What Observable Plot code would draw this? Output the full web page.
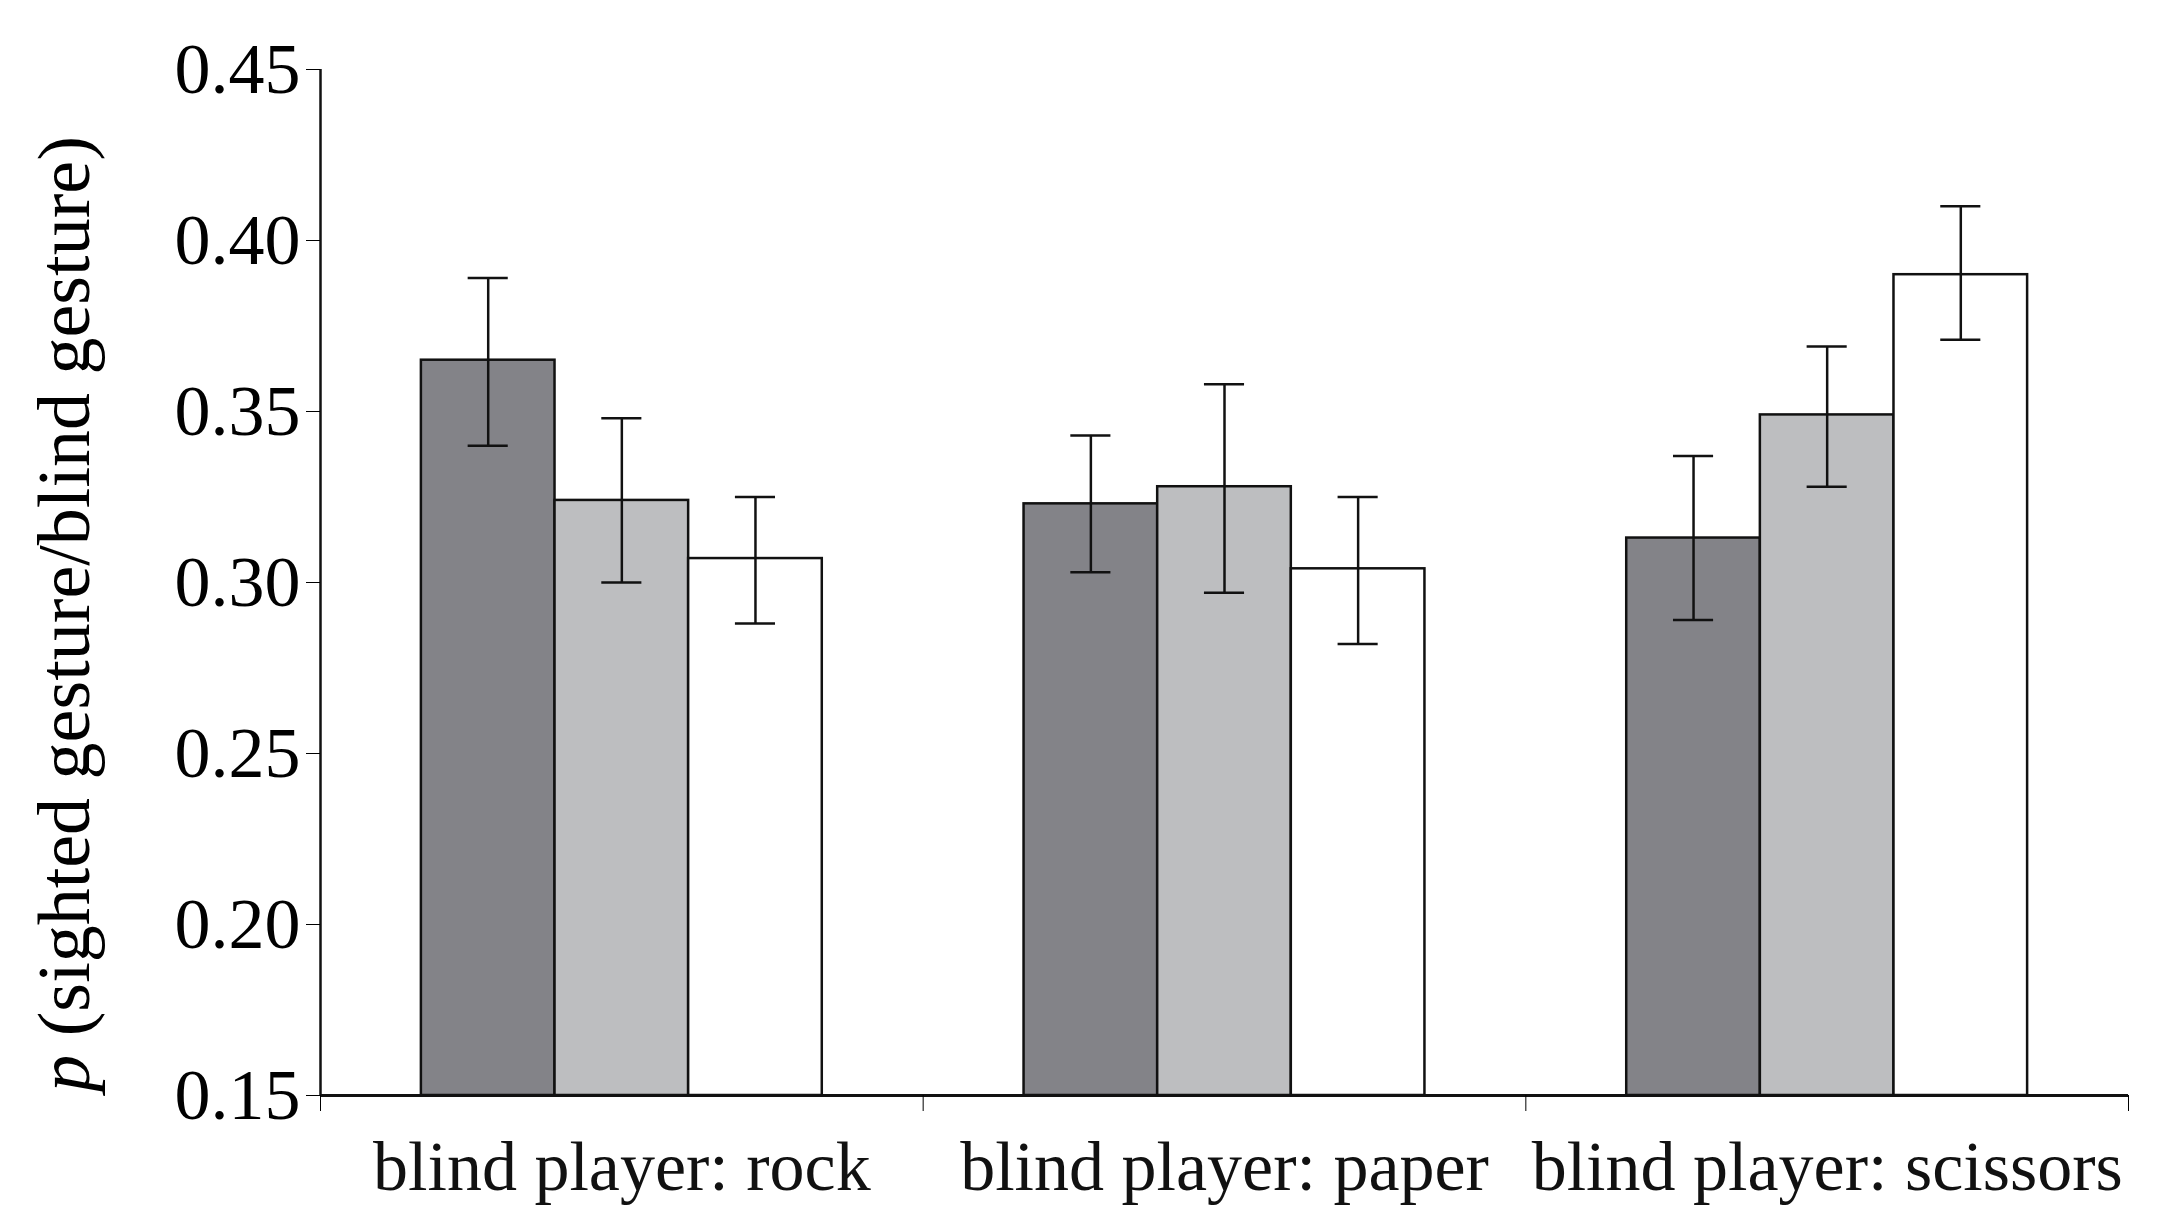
<!DOCTYPE html>
<html><head><meta charset="utf-8">
<script src="https://cdn.jsdelivr.net/npm/d3@7"></script>
<script src="https://cdn.jsdelivr.net/npm/@observablehq/plot@0.6"></script>
<style>body{margin:0;background:#fff}#wrap{position:relative;width:2168px;height:1220px}
#ylab{position:absolute;left:64px;top:614px;transform:translate(-50%,-50%) rotate(-90deg);font-family:"Liberation Serif";font-size:74px;white-space:nowrap;z-index:2}</style>
</head><body><div id="wrap"><div id="ylab"><i>p</i> (sighted gesture/blind gesture)</div></div>
<script>
const categories = ["blind player: rock","blind player: paper","blind player: scissors"];
const series = ["s1","s2","s3"];
const colors = ["#838388","#bdbec0","#ffffff"];
const values = [[0.365,0.324,0.307],[0.323,0.328,0.304],[0.313,0.349,0.390]];
const lows   = [[0.340,0.300,0.288],[0.303,0.297,0.282],[0.289,0.328,0.371]];
const highs  = [[0.389,0.348,0.325],[0.343,0.358,0.325],[0.337,0.369,0.410]];
const G = 4.51, pad = 0.755;
const data = [];
categories.forEach((c,i)=>series.forEach((s,j)=>data.push({c,s,i,j,v:values[i][j],lo:lows[i][j],hi:highs[i][j],x1:i*G+pad+j,x2:i*G+pad+j+1,xc:i*G+pad+j+0.5})));
const chart = Plot.plot({
  width:2168,height:1220,marginLeft:320,marginRight:40,marginTop:69,marginBottom:125,
  style:{fontFamily:"Liberation Serif",fontSize:"72px",background:"transparent"},
  x:{domain:[0,3*G],axis:null},
  y:{domain:[0.15,0.45]},
  color:{domain:series,range:colors},
  marks:[
    Plot.rectY(data,{x1:"x1",x2:"x2",y1:0.15,y2:"v",fill:"s",stroke:"#111",strokeWidth:2.5}),
    Plot.ruleX(data,{x:"xc",y1:"lo",y2:"hi",stroke:"#111",strokeWidth:2.5}),
    Plot.ruleY(data,{y:"lo",x1:d=>d.xc-0.15,x2:d=>d.xc+0.15,stroke:"#111",strokeWidth:2.5}),
    Plot.ruleY(data,{y:"hi",x1:d=>d.xc-0.15,x2:d=>d.xc+0.15,stroke:"#111",strokeWidth:2.5}),
    Plot.ruleX([0],{stroke:"#111",strokeWidth:2.5}),
    Plot.ruleY([0.15],{stroke:"#111",strokeWidth:3}),
    Plot.axisY({ticks:d3.range(0.15,0.4501,0.05),tickFormat:".2f",tickSize:14,tickPadding:6,label:null,fontSize:72}),
    Plot.axisX({ticks:[0,G,2*G,3*G],tickFormat:()=>"",tickSize:16,label:null}),
    Plot.text(categories,{x:(d,i)=>i*G+G/2,y:0.15,text:d=>d,dy:72,fontSize:70,fill:"#111"})
  ]
});
document.getElementById("wrap").appendChild(chart);
chart.style.position="absolute";chart.style.left="0";chart.style.top="0";
</script></body></html>
